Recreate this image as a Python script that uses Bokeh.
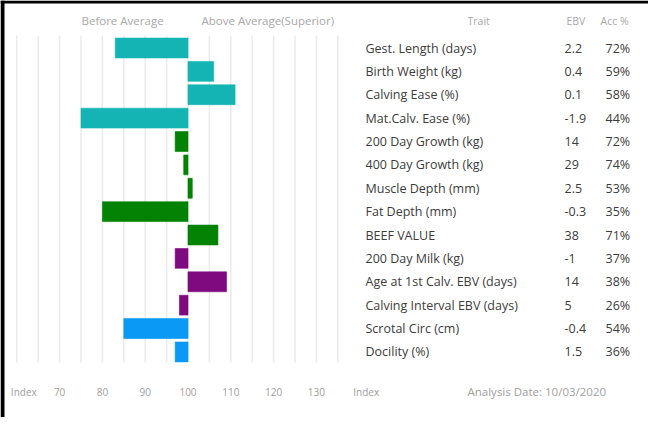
from bokeh.plotting import figure
from bokeh.models import Range1d, ColumnDataSource, Span
from bokeh.core.properties import value
from bokeh.embed import file_html
from bokeh.resources import INLINE

# ---- data ----
traits = ["Gest. Length (days)", "Birth Weight (kg)", "Calving Ease (%)", "Mat.Calv. Ease (%)",
          "200 Day Growth (kg)", "400 Day Growth (kg)", "Muscle Depth (mm)", "Fat Depth (mm)",
          "BEEF VALUE", "200 Day Milk (kg)", "Age at 1st Calv. EBV (days)",
          "Calving Interval EBV (days)", "Scrotal Circ (cm)", "Docility (%)"]
index_vals = [83, 106, 111, 75, 97, 99, 101, 80, 107, 97, 109, 98, 85, 97]
ebv = ["2.2", "0.4", "0.1", "-1.9", "14", "29", "2.5", "-0.3", "38", "-1", "14", "5", "-0.4", "1.5"]
acc = ["72%", "59%", "58%", "44%", "72%", "74%", "53%", "35%", "71%", "37%", "38%", "26%", "54%", "36%"]
groups = ["calving"] * 4 + ["growth"] * 5 + ["maternal"] * 3 + ["other"] * 2
group_colors = {"calving": "#14b4b4", "growth": "#038203", "maternal": "#7f0a80", "other": "#0a9af5"}
tick_vals = [70, 80, 90, 100, 110, 120, 130]
tick_labels = ["70", "80", "90", "100", "110", "120", "130"]
end_vals = [60, 140]
end_labels = ["Index", "Index"]
grid_vals = [60, 65, 70, 75, 80, 85, 90, 95, 100, 105, 110, 115, 120, 125, 130, 135]
average = 100
analysis_date = "Analysis Date: 10/03/2020"

# ---- layout helpers (picture pixels -> data) ----
W, H = 648, 417
PX100, PXU = 187.5, 4.28
ROW0, PITCH = 47.5, 23.38


def dx(px):
    return average + (px - PX100) / PXU


def dy(py):
    return (py - ROW0) / PITCH


p = figure(width=W, height=H, output_backend="svg", toolbar_location=None,
           x_range=Range1d(dx(0), dx(W)), y_range=Range1d(dy(H), dy(0)),
           min_border=0, outline_line_color=None, background_fill_color="white")
p.xaxis.visible = False
p.yaxis.visible = False
p.xgrid.visible = False
p.ygrid.visible = False

rows = list(range(len(traits)))

# grid lines
p.segment(x0=grid_vals, x1=grid_vals, y0=[dy(35)] * len(grid_vals), y1=[dy(362)] * len(grid_vals),
          line_color="#ebebeb", line_width=1.5)

# bars
src = ColumnDataSource(dict(
    y=rows,
    left=[min(average, v) for v in index_vals],
    right=[max(average, v) for v in index_vals],
    color=[group_colors[g] for g in groups],
))
p.hbar(y="y", left="left", right="right", height=0.85, fill_color="color", line_color="color",
       line_alpha=0.6, source=src)

font = value("Open Sans")
tcol = "#3c3c3c"
# table text
p.text(x=[dx(365)] * len(rows), y=rows, text=traits, text_font=font, text_font_size="12.5px",
       text_color=tcol, text_baseline="middle", text_align="left")
p.text(x=[dx(564)] * len(rows), y=rows, text=ebv, text_font=font, text_font_size="12.5px",
       text_color=tcol, text_baseline="middle", text_align="left")
p.text(x=[dx(605)] * len(rows), y=rows, text=acc, text_font=font, text_font_size="12.5px",
       text_color=tcol, text_baseline="middle", text_align="left")

# headers
hdr_y = dy(20)
p.text(x=[dx(81), dx(201)], y=[hdr_y] * 2,
       text=["Before Average", "Above Average(Superior)"],
       text_font=font, text_font_size="11.5px", text_color="#a8a8a8",
       text_baseline="middle", text_align="left")
p.text(x=[dx(467), dx(566), dx(600)], y=[hdr_y] * 3,
       text=["Trait", "EBV", "Acc %"],
       text_font=font, text_font_size="10.5px", text_color="#a8a8a8",
       text_baseline="middle", text_align="left")

# index scale labels
p.text(x=tick_vals, y=[dy(391)] * len(tick_vals), text=tick_labels, text_font=font,
       text_font_size="10px", text_color="#a0a0a0", text_baseline="middle", text_align="center")
p.text(x=end_vals, y=[dy(391)] * len(end_vals), text=end_labels, text_font=font, x_offset=7,
       text_font_size="10px", text_color="#a0a0a0", text_baseline="middle", text_align="center")
p.text(x=[dx(467)], y=[dy(391)], text=[analysis_date], text_font=font,
       text_font_size="11.5px", text_color="#a0a0a0", text_baseline="middle", text_align="left")

# black edge of the scanned page (left and top)
p.add_layout(Span(location=dx(2), dimension="height", line_color="black", line_width=4))
p.add_layout(Span(location=dy(1.5), dimension="width", line_color="black", line_width=3))

open("out.html", "w").write(file_html(p, INLINE))
